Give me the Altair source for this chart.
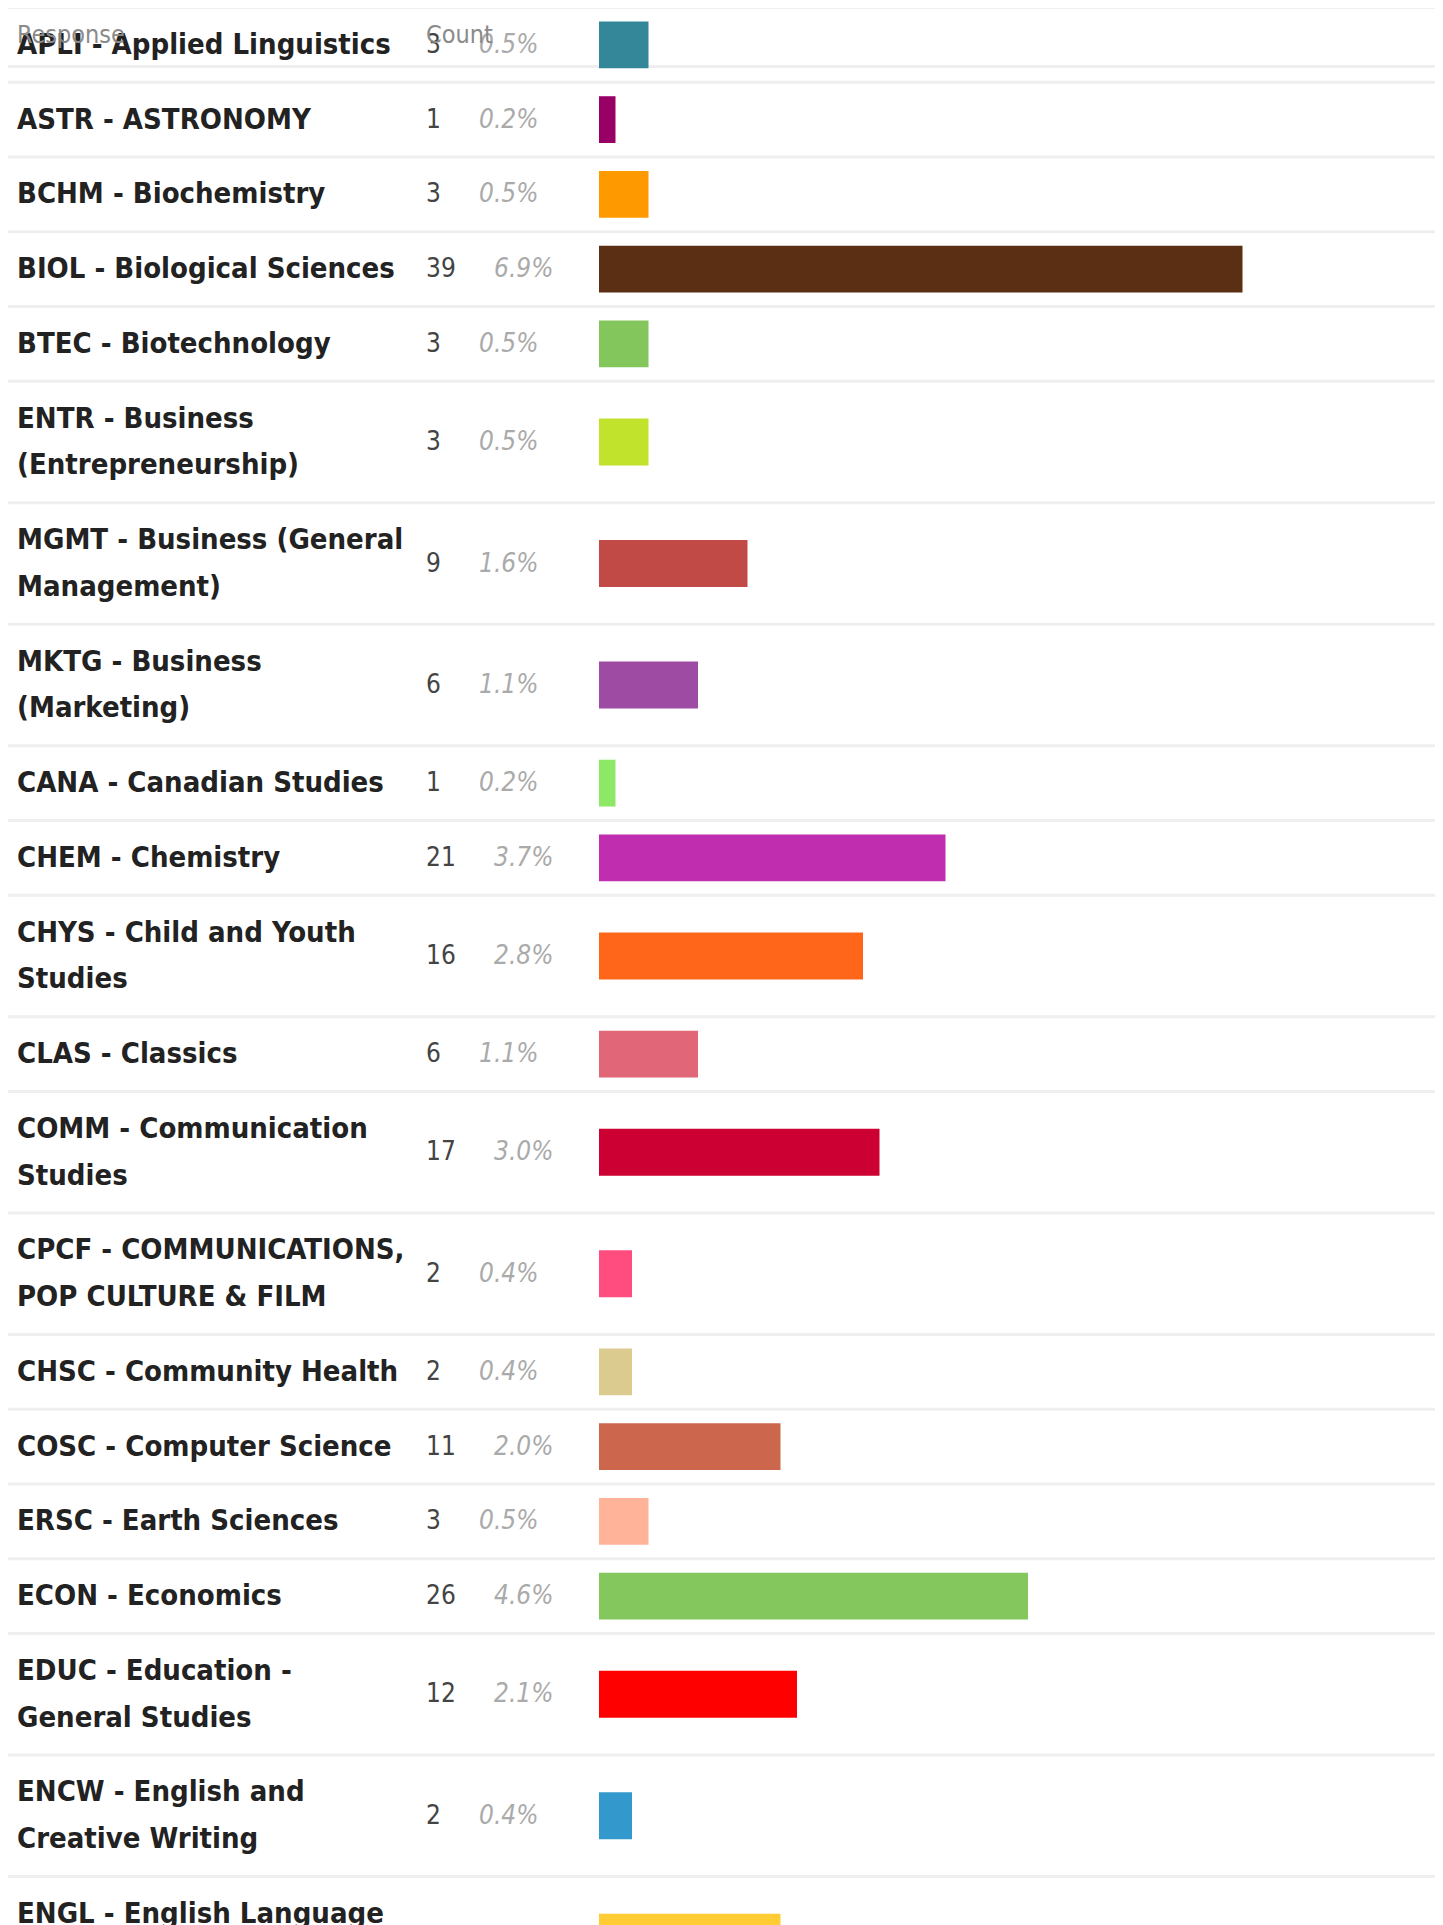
import altair as alt
import pandas as pd

labels = [
    "APLI - Applied Linguistics",
    "ASTR - ASTRONOMY",
    "BCHM - Biochemistry",
    "BIOL - Biological Sciences",
    "BTEC - Biotechnology",
    "ENTR - Business\n(Entrepreneurship)",
    "MGMT - Business (General\nManagement)",
    "MKTG - Business\n(Marketing)",
    "CANA - Canadian Studies",
    "CHEM - Chemistry",
    "CHYS - Child and Youth\nStudies",
    "CLAS - Classics",
    "COMM - Communication\nStudies",
    "CPCF - COMMUNICATIONS,\nPOP CULTURE & FILM",
    "CHSC - Community Health",
    "COSC - Computer Science",
    "ERSC - Earth Sciences",
    "ECON - Economics",
    "EDUC - Education -\nGeneral Studies",
    "ENCW - English and\nCreative Writing",
    "ENGL - English Language\nand Literature",
]
counts = [3, 1, 3, 39, 3, 3, 9, 6, 1, 21, 16, 6, 17, 2, 2, 11, 3, 26, 12, 2, 11]
percents = ["0.5%", "0.2%", "0.5%", "6.9%", "0.5%", "0.5%", "1.6%", "1.1%", "0.2%",
            "3.7%", "2.8%", "1.1%", "3.0%", "0.4%", "0.4%", "2.0%", "0.5%", "4.6%",
            "2.1%", "0.4%", "2.0%"]
colors = ["#338799", "#990066", "#ff9900", "#5a2f14", "#83c65c", "#c1e32b", "#c14a46",
          "#9e4ba4", "#8de866", "#c02daf", "#ff661a", "#e06678", "#cc0033", "#ff4d80",
          "#dccb8f", "#cc664d", "#ffb399", "#84c75c", "#ff0000", "#3399cc", "#ffcc33"]
header = ["Response", "Count"]

df = pd.DataFrame({"label": labels, "count": counts, "pct": percents,
                   "order": list(range(len(labels)))})

W, H = 1427, 1917
yscale = alt.Scale(domain=[8, 1925], range=[0, H], nice=False, zero=False, padding=0)
xscale = alt.Scale(domain=[0, 50], range=[591, 1416], nice=False, padding=0)

LABEL_FONT = "DejaVu Sans Condensed, DejaVu Sans"
NUM_FONT = "DejaVu Sans Condensed, DejaVu Sans"
LH = 46.75

base = (
    alt.Chart(df)
    .transform_calculate(lines="length(split(datum.label, '\\n'))")
    .transform_calculate(h="74.75 + 46.75 * (datum.lines - 1)")
    .transform_window(cum="sum(h)", sort=[alt.SortField("order")], frame=[None, 0])
    .transform_calculate(top="6 + datum.cum - datum.h")
    .transform_calculate(
        yc="datum.top + 1.5 + datum.h / 2",
        ry="datum.top + 1.5",
        nd="length(toString(datum.count))",
        zero="0",
    )
    .transform_calculate(
        b0="datum.yc - 23.4",
        b1="datum.yc + 23.4",
        ly="datum.yc - (datum.lines - 1) * 46.75 / 2",
    )
)

rules = base.mark_rule(color="#efefef", strokeWidth=3, clip=True).encode(
    y=alt.Y("ry:Q", scale=yscale, axis=None),
    x=alt.value(0), x2=alt.value(W),
)

bars = base.mark_rect(clip=True).encode(
    x=alt.X("zero:Q", scale=xscale, axis=None),
    x2="count:Q",
    y=alt.Y("b0:Q", scale=yscale, axis=None),
    y2="b1:Q",
    color=alt.Color("label:N", scale=alt.Scale(domain=labels, range=colors), legend=None),
)

label_text = base.mark_text(
    align="left", baseline="middle", font=LABEL_FONT, fontWeight="bold", fontSize=29,
    color="#222222", lineBreak="\n", lineHeight=LH, clip=True,
).encode(x=alt.value(9), y=alt.Y("ly:Q", scale=yscale, axis=None), text="label:N")

count_text = base.mark_text(
    align="left", baseline="middle", font=NUM_FONT, fontSize=26, color="#444444", clip=True,
).encode(x=alt.value(418), y=alt.Y("yc:Q", scale=yscale, axis=None), text="count:Q")

pct1 = base.transform_filter("datum.nd == 1").mark_text(
    align="left", baseline="middle", font=NUM_FONT, fontSize=26, fontStyle="italic",
    color="#aaaaaa", clip=True,
).encode(x=alt.value(471), y=alt.Y("yc:Q", scale=yscale, axis=None), text="pct:N")

pct2 = base.transform_filter("datum.nd == 2").mark_text(
    align="left", baseline="middle", font=NUM_FONT, fontSize=26, fontStyle="italic",
    color="#aaaaaa", clip=True,
).encode(x=alt.value(486), y=alt.Y("yc:Q", scale=yscale, axis=None), text="pct:N")

hdf = pd.DataFrame({"h": header})
header_rule = alt.Chart(hdf).transform_filter("datum.h == 'Response'").mark_rule(
    color="#efefef", strokeWidth=3
).encode(y=alt.value(58.5), x=alt.value(0), x2=alt.value(W))

head1 = alt.Chart(hdf).transform_filter("datum.h == 'Response'").mark_text(
    align="left", baseline="middle", font=NUM_FONT, fontSize=25, color="#8a8a8a",
).encode(x=alt.value(9), y=alt.value(27), text="h:N")

head2 = alt.Chart(hdf).transform_filter("datum.h == 'Count'").mark_text(
    align="left", baseline="middle", font=NUM_FONT, fontSize=25, color="#8a8a8a",
).encode(x=alt.value(418), y=alt.value(27), text="h:N")

chart = (
    alt.layer(rules, header_rule, bars, label_text, count_text, pct1, pct2, head1, head2)
    .properties(width=W, height=H, padding=0, autosize=alt.AutoSizeParams(type="none"),
                background="white")
    .configure_view(stroke=None)
)

chart.save("out.html", embed_options={"renderer": "svg", "actions": False})
